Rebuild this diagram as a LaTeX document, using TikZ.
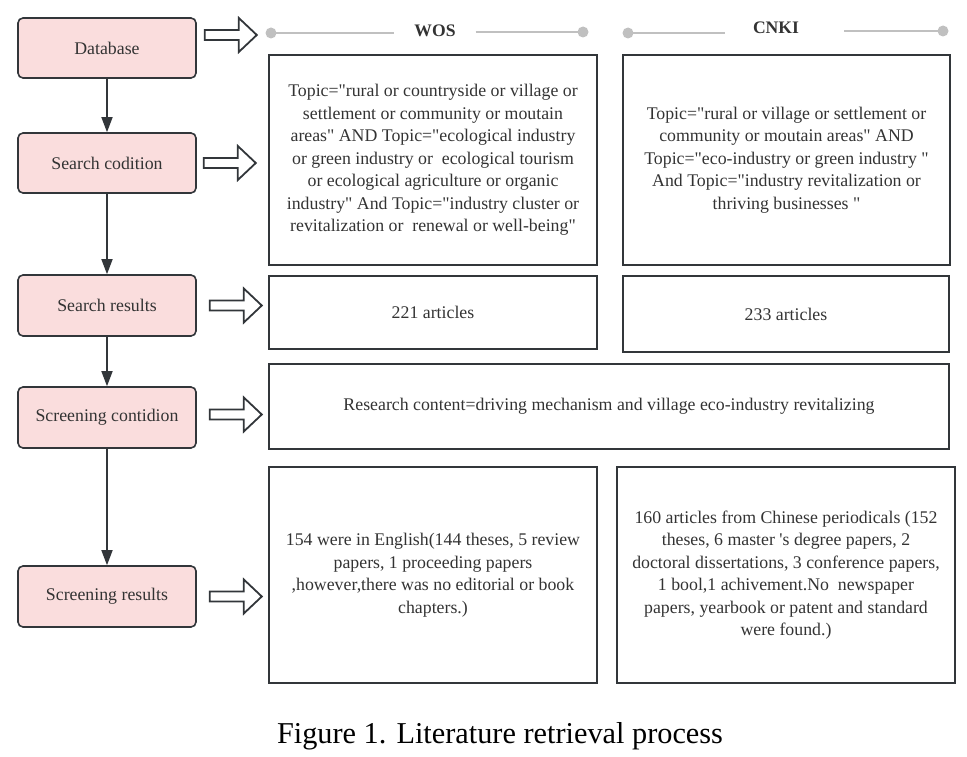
\documentclass[tikz,border=0pt]{standalone}
\usepackage{fontspec}
\setmainfont{Liberation Serif}[Ligatures=TeXOff]
\usetikzlibrary{arrows.meta,calc}
\definecolor{pinkfill}{RGB}{250,221,221}
\definecolor{edge}{RGB}{50,54,58}
\definecolor{txt}{RGB}{51,51,51}
\definecolor{hdr}{RGB}{192,192,192}
\newcommand{\blockarr}[1]{\draw[blockarrow] #1 ++(0,-5) -- ++(34,0) -- ++(0,-12) -- ++(18,17) -- ++(-18,17) -- ++(0,-12) -- ++(-34,0) -- cycle;}
\begin{document}
\begin{tikzpicture}[x=1pt,y=-1pt,
  stepbox/.style={draw=edge, line width=1.6pt, fill=pinkfill, rounded corners=5pt, minimum width=178pt, minimum height=60pt, font=\fontsize{17.8}{20}\selectfont, text=txt},
  infobox/.style={draw=edge, line width=1.6pt, font=\fontsize{17.8}{22.5}\selectfont, text=txt, align=center},
  flow/.style={draw=edge, line width=1.6pt, -{Triangle[length=15pt,width=11pt]}},
  blockarrow/.style={draw=edge, line width=1.8pt, fill=white, line join=miter},
  hline/.style={draw=hdr, line width=2.5pt},
  hdot/.style={circle, fill=hdr, inner sep=0pt, minimum size=11pt},
  hlabel/.style={font=\bfseries\fontsize{17.6}{20}\selectfont, text=txt, inner xsep=20pt}]
\useasboundingbox (0,0) rectangle (967,757);

% left step boxes
\node[stepbox] (db)  at (107,48)    {Database};
\node[stepbox] (sc)  at (107,163)   {Search codition};
\node[stepbox, minimum height=61pt] (sr)  at (107,305.5) {Search results};
\node[stepbox, minimum height=61pt] (scc) at (107,417.5) {Screening contidion};
\node[stepbox, minimum height=61pt] (scr) at (107,596.5) {Screening results};

\draw[flow] (db)  -- (sc);
\draw[flow] (sc)  -- (sr);
\draw[flow] (sr)  -- (scc);
\draw[flow] (scc) -- (scr);

% headers
\node[hdot] (w1) at (271,33) {};
\node[hdot] (w2) at (583,32) {};
\node[hlabel] (wl) at (435,31) {WOS};
\draw[hline] (w1.center) -- (wl.west |- w1.center);
\draw[hline] (wl.east |- w2.center) -- (w2.center);
\node[hdot] (c1) at (628,33) {};
\node[hdot] (c2) at (943,31) {};
\node[hlabel] (cl) at (776,28) {CNKI};
\draw[hline] (c1.center) -- ($(cl.west |- c1.center)+(-8,0)$);
\draw[hline] ($(cl.east |- c2.center)+(25,0)$) -- (c2.center);

% right boxes
\node[infobox, minimum width=328pt, minimum height=210pt] (wosq) at (433,160)
 {Topic="rural or countryside or village or\\settlement or community or moutain\\areas" AND Topic="ecological industry\\or green industry or\ \ ecological tourism\\or ecological agriculture or organic\\industry" And Topic="industry cluster or\\revitalization or\ \ renewal or well-being"};
\node[infobox, minimum width=327pt, minimum height=210pt] (cnkiq) at (786.5,160)
 {Topic="rural or village or settlement or\\community or moutain areas" AND\\Topic="eco-industry or green industry "\\And Topic="industry revitalization or\\thriving businesses "};
\node[infobox, minimum width=328pt, minimum height=73pt] (wosr) at (433,312.5) {221 articles};
\node[infobox, minimum width=326pt, minimum height=76pt] (cnkir) at (786,314) {233 articles};
\node[infobox, minimum width=680pt, minimum height=85pt] (scrc) at (609,406.5)
 {Research content=driving mechanism and village eco-industry revitalizing};
\node[infobox, minimum width=328pt, minimum height=216pt] (wosf) at (433,575)
 {154 were in English(144 theses, 5 review\\papers, 1 proceeding papers\\,however,there was no editorial or book\\chapters.)};
\node[infobox, minimum width=338pt, minimum height=216pt] (cnkif) at (786,575)
 {160 articles from Chinese periodicals (152\\theses, 6 master 's degree papers, 2\\doctoral dissertations, 3 conference papers,\\1 bool,1 achivement.No\ \ newspaper\\papers, yearbook or patent and standard\\were found.)};

% block arrows
\blockarr{($(db.east)+(8,-13)$)}
\blockarr{($(sc.east)+(7,0)$)}
\blockarr{($(sr.east)+(13,0)$)}
\blockarr{($(scc.east)+(13,-3)$)}
\blockarr{($(scr.east)+(13,0)$)}

% caption
\node[font=\fontsize{30.3}{34}\selectfont] (cap) at (500,736) {Figure 1. Literature retrieval process};
\end{tikzpicture}
\end{document}
